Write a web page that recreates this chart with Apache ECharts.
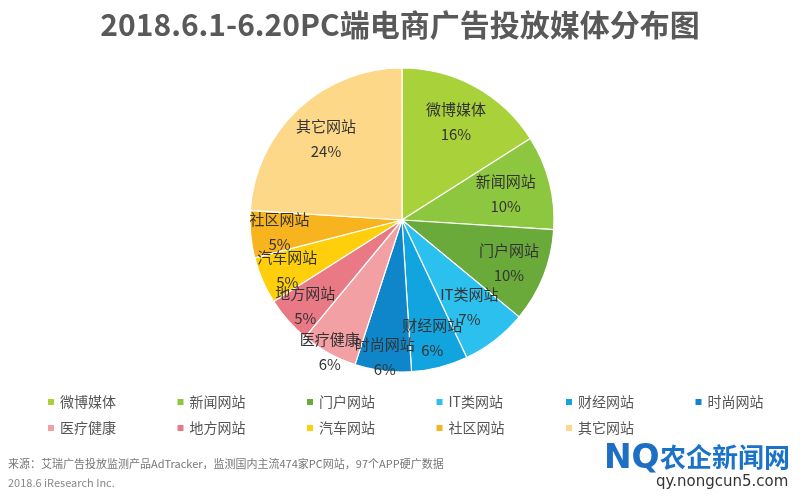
<!DOCTYPE html>
<html>
<head>
<meta charset="utf-8">
<script src="https://cdn.jsdelivr.net/npm/echarts@6/dist/echarts.min.js"></script>
<style>
  html, body { margin: 0; padding: 0; background: #fff; }
  #chart { width: 800px; height: 498px; }
</style>
</head>
<body>
<div id="chart"></div>
<script>
const categories = ["微博媒体", "新闻网站", "门户网站", "IT类网站", "财经网站", "时尚网站",
  "医疗健康", "地方网站", "汽车网站", "社区网站", "其它网站"];
const shares = [16, 10, 10, 7, 6, 6, 6, 5, 5, 5, 24];
const colors = ["#a8d13a", "#8dc63f", "#6aaa3a", "#2cc0ef", "#12a4df", "#0f86c9",
  "#f2a0a3", "#ea7986", "#fecf0a", "#f8b41f", "#fdd888"];

// 标签离圆心的距离（像素），原图里靠下的几个被推到了外面
const labelRadius = [112, 107, 115, 110, 122, 138, 150, 129, 125, 123, 111];

const font = '"Noto Sans CJK SC", "Noto Sans", sans-serif';
const cx = 402, cy = 220, R = 152;
const chart = echarts.init(document.getElementById("chart"));

const total = shares.reduce((a, b) => a + b, 0);
const midAngles = [];
let acc = 0;
shares.forEach((v) => {
  midAngles.push(((acc + v / 2) / total) * Math.PI * 2);
  acc += v;
});

// 图例：两行，每行 6 列，固定列宽
const legends = categories.map((name, i) => ({
  left: 41 + (i % 6) * 129.5,
  top: i < 6 ? 390 : 416,
  icon: "rect",
  itemWidth: 8,
  itemHeight: 8,
  selectedMode: false,
  textStyle: { fontFamily: font, fontSize: 14, color: "#555" },
  data: [name],
}));

const options = {
  animation: false,
  color: colors,
  title: {
    text: "2018.6.1-6.20PC端电商广告投放媒体分布图",
    left: "center",
    top: 5,
    textStyle: { fontFamily: font, fontSize: 30, fontWeight: "bold", color: "#595959" },
  },
  legend: legends,
  series: [
    {
      type: "pie",
      center: [cx, cy],
      radius: [0, R],
      startAngle: 90,
      clockwise: true,
      avoidLabelOverlap: false,
      itemStyle: { borderColor: "#fff", borderWidth: 1.2 },
      label: {
        show: true,
        position: "inside",
        formatter: "{b}\n{c}%",
        fontFamily: font,
        fontSize: 15,
        lineHeight: 25,
        color: "#333",
      },
      labelLine: { show: false },
      labelLayout: (params) => {
        const i = params.dataIndex;
        const r = labelRadius[i];
        return {
          x: cx + r * Math.sin(midAngles[i]),
          y: cy - r * Math.cos(midAngles[i]),
          align: "center",
          verticalAlign: "middle",
          hideOverlap: false,
        };
      },
      data: categories.map((name, i) => ({
        name: name,
        value: shares[i],
        itemStyle: { color: colors[i] },
      })),
    },
  ],
  graphic: [
    {
      type: "text",
      left: 8,
      top: 458,
      style: {
        text: "来源：艾瑞广告投放监测产品AdTracker，监测国内主流474家PC网站，97个APP硬广数据",
        fontFamily: font,
        fontSize: 11,
        fill: "#777",
      },
    },
    {
      type: "text",
      left: 8,
      top: 477,
      style: { text: "2018.6 iResearch Inc.", fontFamily: font, fontSize: 11, fill: "#888" },
    },
    {
      type: "text",
      left: 604,
      top: 443,
      style: { text: "NQ", fontFamily: "DejaVu Sans, sans-serif", fontSize: 33, fontWeight: "bold", fill: "#1d6fc4" },
    },
    {
      type: "text",
      left: 660,
      top: 444,
      style: { text: "农企新闻网", fontFamily: font, fontSize: 26, fontWeight: "bold", fill: "#1a73c9" },
    },
    {
      type: "text",
      left: 656,
      top: 475,
      style: { text: "qy.nongcun5.com", fontFamily: "DejaVu Sans, sans-serif", fontSize: 15, fill: "#333" },
    },
  ],
};

chart.setOption(options);
</script>
</body>
</html>
